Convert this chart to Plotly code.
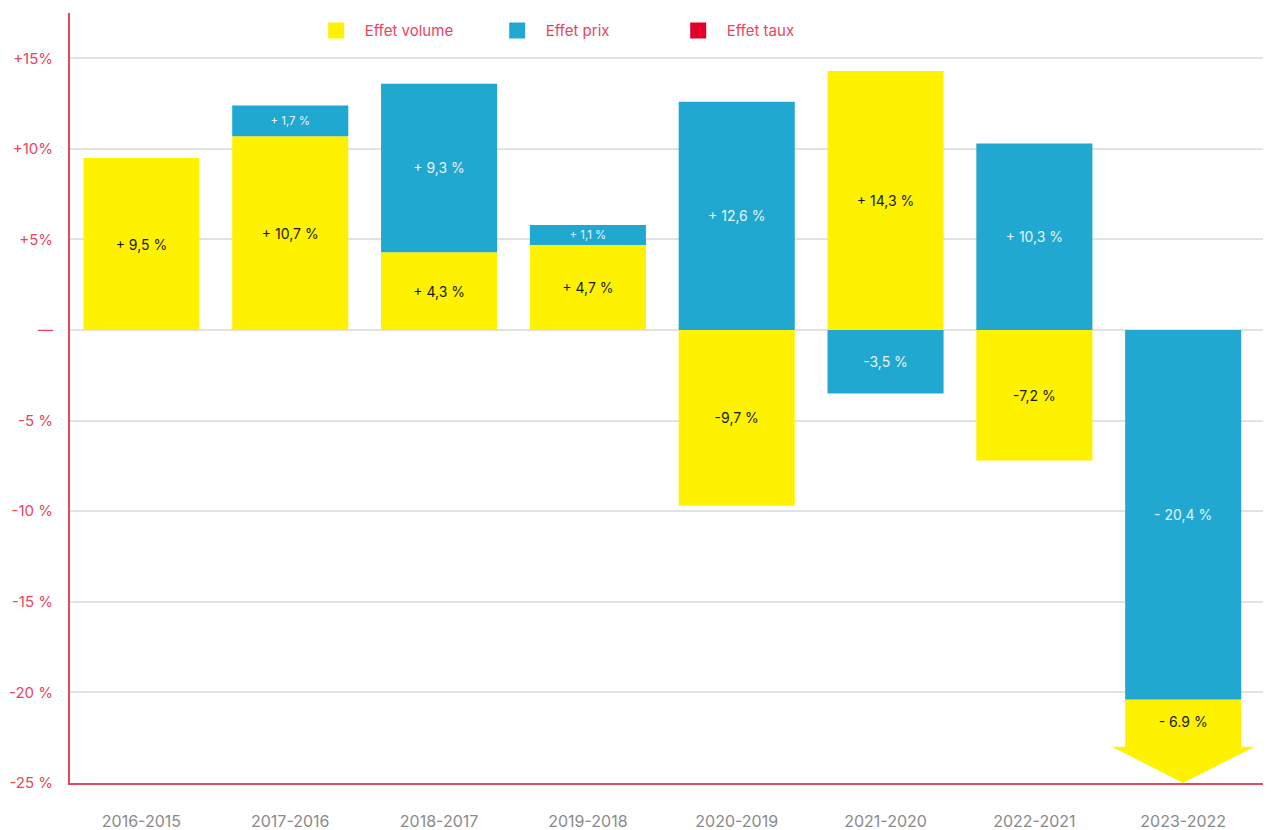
import plotly.graph_objects as go

categories = ["2016-2015", "2017-2016", "2018-2017", "2019-2018",
              "2020-2019", "2021-2020", "2022-2021", "2023-2022"]
volume = [9.5, 10.7, 4.3, 4.7, -9.7, 14.3, -7.2, -6.9]
prix = [None, 1.7, 9.3, 1.1, 12.6, -3.5, 10.3, -20.4]
taux = [0, 0, 0, 0, 0, 0, 0, 0]
volume_labels = ["+ 9,5 %", "+ 10,7 %", "+ 4,3 %", "+ 4,7 %",
                 "-9,7 %", "+ 14,3 %", "-7,2 %", "- 6.9 %"]
prix_labels = ["", "+ 1,7 %", "+ 9,3 %", "+ 1,1 %",
               "+ 12,6 %", "-3,5 %", "+ 10,3 %", "- 20,4 %"]
y_tickvals = [15, 10, 5, 0, -5, -10, -15, -20, -25]
y_ticktext = ["+15%", "+10%", "+5%", "\u2014", "-5 %", "-10 %", "-15 %", "-20 %", "-25 %"]
legend_names = ["Effet volume", "Effet prix", "Effet taux"]

YELLOW = "#FFF200"
BLUE = "#21A8D0"
RED = "#E4002B"
PINK = "#E8455F"
FONT = "Inter"

Y_MIN, Y_MAX = -25, 17.5
BAR_W = 0.78
HEAD_EXTRA = 0.09
HEAD_H = 2.0

xs = list(range(len(categories)))
last = len(categories) - 1

def size_for(v):
    return 11.5 if v is not None and abs(v) < 2 else 14

fig = go.Figure()

# Volume bars (last one drawn as a truncated arrow)
vol_bar = volume[:last] + [None]
fig.add_trace(go.Bar(
    x=xs, y=vol_bar, width=BAR_W, marker=dict(color=YELLOW, line=dict(width=0)),
    text=volume_labels[:last] + [""], textposition="inside", insidetextanchor="middle",
    textfont=dict(family=FONT, color="#1a1a1a", size=[size_for(v) for v in vol_bar]),
    showlegend=False, hoverinfo="skip", textangle=0,
))
fig.add_trace(go.Bar(
    x=xs, y=prix, width=BAR_W, marker=dict(color=BLUE, line=dict(width=0)),
    text=prix_labels, textposition="inside", insidetextanchor="middle",
    textfont=dict(family=FONT, color="#E6F4FA", size=[size_for(v) for v in prix]),
    showlegend=False, hoverinfo="skip", textangle=0,
))
fig.add_trace(go.Bar(
    x=xs, y=taux, width=BAR_W, marker=dict(color=RED, line=dict(width=0)),
    showlegend=False, hoverinfo="skip",
))

# Truncated arrow for last volume value (stacked below the negative price effect)
base = prix[last] if prix[last] is not None and prix[last] < 0 else 0
end = base + volume[last]
tip = max(end, Y_MIN)
head_start = tip + HEAD_H
hw = BAR_W / 2
xc = xs[last]
ax = [xc - hw, xc + hw, xc + hw, xc + hw + HEAD_EXTRA, xc, xc - hw - HEAD_EXTRA, xc - hw, xc - hw]
ay = [base, base, head_start, head_start, tip, head_start, head_start, base]
fig.add_trace(go.Scatter(
    x=ax, y=ay, mode="lines", fill="toself", fillcolor=YELLOW,
    line=dict(width=0, color=YELLOW), showlegend=False, hoverinfo="skip",
))
fig.add_trace(go.Scatter(
    x=[xc], y=[(base + head_start) / 2], mode="text", text=[volume_labels[last]],
    textfont=dict(family=FONT, color="#1a1a1a", size=14), showlegend=False, hoverinfo="skip",
))

# Legend entries
for name, col in zip(legend_names, [YELLOW, BLUE, RED]):
    fig.add_trace(go.Scatter(
        x=[None], y=[None], mode="markers", name="\u00a0\u00a0" + name,
        marker=dict(symbol="square", size=16, color=col),
    ))

fig.update_layout(
    width=1263, height=822,
    margin=dict(l=62, r=0, t=5, b=47),
    plot_bgcolor="white", paper_bgcolor="white",
    barmode="relative",
    font=dict(family=FONT),
    legend=dict(orientation="h", x=0.205, xanchor="left", y=0.977, yanchor="middle",
                font=dict(family=FONT, size=15, color=PINK), entrywidth=136,
                bgcolor="rgba(0,0,0,0)", itemsizing="trace"),
    xaxis=dict(
        type="linear", range=[-0.48, 7.59], tickvals=xs, ticktext=categories,
        showgrid=False, zeroline=False, showline=True, linecolor=PINK, linewidth=2,
        tickfont=dict(family=FONT, size=16, color="#8a8a8a"), ticks="",
        ticklabelstandoff=23, automargin=False,
    ),
    yaxis=dict(
        range=[Y_MIN, Y_MAX], tickvals=y_tickvals, ticktext=y_ticktext,
        showgrid=True, gridcolor="#e2e2e2", gridwidth=2,
        zeroline=True, zerolinecolor="#e2e2e2", zerolinewidth=2,
        showline=True, linecolor=PINK, linewidth=2,
        tickfont=dict(family=FONT, size=15, color=PINK), ticks="",
        ticklabelstandoff=12, automargin=False,
    ),
)

fig.write_html("out.html")
